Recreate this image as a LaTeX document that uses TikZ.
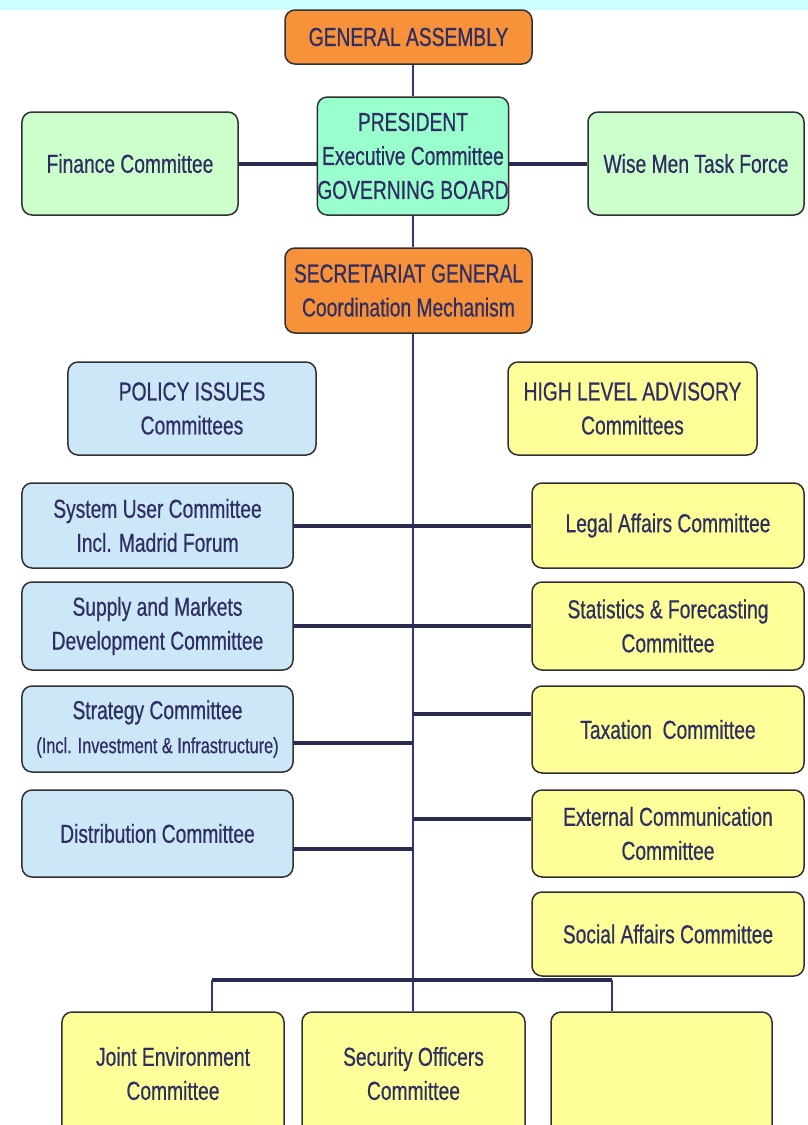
\documentclass[tikz,border=0pt]{standalone}
\usepackage{fontspec}
\setmainfont{Liberation Sans}[FakeStretch=0.74,FakeBold=0.6]
\usetikzlibrary{calc}
\pgfdeclarelayer{bg}
\pgfsetlayers{bg,main}
\definecolor{orangebox}{HTML}{F7923A}
\definecolor{presbox}{HTML}{99FFCC}
\definecolor{greenbox}{HTML}{CCFFCC}
\definecolor{bluebox}{HTML}{CCE8F8}
\definecolor{yellowbox}{HTML}{FFFF99}
\definecolor{band}{HTML}{CCFFFF}
\definecolor{txt}{HTML}{2E2E63}
\definecolor{boxline}{HTML}{303030}
\definecolor{conncol}{HTML}{2B2B50}
\definecolor{spinecol}{HTML}{333388}
\tikzset{
  box/.style={draw=boxline, line width=1.5bp, rounded corners=10bp, align=center,
    text=txt, font=\fontsize{26bp}{34bp}\selectfont, inner sep=0pt},
  conn/.style={draw=conncol, line width=4bp},
  spine/.style={draw=spinecol, line width=1.5bp},
}
\begin{document}
\begin{tikzpicture}[x=1bp,y=-1bp]
\clip (0,0) rectangle (808,1125);
% top
\node[box, fill=orangebox, minimum width=247bp, minimum height=54bp] (ga) at (408.5,37) {GENERAL ASSEMBLY};
\node[box, fill=presbox, minimum width=190bp, minimum height=118bp] (pres) at (413,156) {PRESIDENT\\Executive Committee\\GOVERNING BOARD};
\node[box, fill=greenbox, minimum width=216bp, minimum height=103bp] (fin) at (130,163.5) {Finance Committee};
\node[box, fill=greenbox, minimum width=216bp, minimum height=103bp] (wise) at (696,163.5) {Wise Men Task Force};
\node[box, fill=orangebox, minimum width=247bp, minimum height=85bp] (sec) at (408.5,290.5) {SECRETARIAT GENERAL\\Coordination Mechanism};
% headers
\node[box, fill=bluebox, minimum width=248bp, minimum height=93bp] (pol) at (192,408.5) {POLICY ISSUES\\Committees};
\node[box, fill=yellowbox, minimum width=249bp, minimum height=93bp] (high) at (632.5,408.5) {HIGH LEVEL ADVISORY\\Committees};
% left column
\node[box, fill=bluebox, minimum width=271bp, minimum height=85bp] (sys) at (157.5,525.5) {System User Committee\\Incl. Madrid Forum};
\node[box, fill=bluebox, minimum width=271bp, minimum height=88bp] (sup) at (157.5,626) {Supply and Markets\\Development Committee};
\node[box, fill=bluebox, minimum width=271bp, minimum height=86bp] (strat) at (157.5,729) {Strategy Committee\\{\fontsize{22bp}{26bp}\selectfont (Incl. Investment \& Infrastructure)}};
\node[box, fill=bluebox, minimum width=271bp, minimum height=87bp] (dist) at (157.5,833.5) {Distribution Committee};
% right column
\node[box, fill=yellowbox, minimum width=272bp, minimum height=85bp] (legal) at (668,525.5) {Legal Affairs Committee};
\node[box, fill=yellowbox, minimum width=272bp, minimum height=88bp] (stat) at (668,626) {Statistics \& Forecasting\\Committee};
\node[box, fill=yellowbox, minimum width=272bp, minimum height=87bp] (tax) at (668,729.5) {Taxation~~Committee};
\node[box, fill=yellowbox, minimum width=272bp, minimum height=87bp] (ext) at (668,833.5) {External Communication\\Committee};
\node[box, fill=yellowbox, minimum width=272bp, minimum height=84bp] (soc) at (668,934) {Social Affairs Committee};
% bottom row
\node[box, fill=yellowbox, minimum width=222bp, minimum height=128bp] (joint) at (173,1076) {\raisebox{16bp}{\begin{tabular}{@{}c@{}}Joint Environment\\Committee\end{tabular}}};
\node[box, fill=yellowbox, minimum width=223bp, minimum height=128bp] (secoff) at (413.5,1076) {\raisebox{16bp}{\begin{tabular}{@{}c@{}}Security Officers\\Committee\end{tabular}}};
\node[box, fill=yellowbox, minimum width=221bp, minimum height=128bp] (third) at (661.5,1076) {};
% connector points
\coordinate (busc) at (413,980);
\coordinate (busl) at (212,980);
\coordinate (busr) at (612,980);
\coordinate (stl) at ($(strat.east)+(0,14)$);
\coordinate (dil) at ($(dist.east)+(0,15)$);
\coordinate (txl) at ($(tax.west)+(0,-16)$);
\coordinate (exl) at ($(ext.west)+(0,-15)$);
\begin{pgfonlayer}{bg}
\fill[white] (0,0) rectangle (808,1125);
\fill[band] (0,0) rectangle (808,10);
\draw[spine] (ga.south -| pres.north) -- (pres.north);
\draw[spine] (pres.south) -- (pres.south |- sec.north);
\draw[spine] (pres.south |- sec.south) -- (busc);
\draw[conn] (fin.east) -- (fin.east -| pres.west);
\draw[conn] (wise.west) -- (wise.west -| pres.east);
\draw[conn] (sys.east) -- (legal.west);
\draw[conn] (sup.east) -- (stat.west);
\draw[conn] (stl) -- (stl -| busc);
\draw[conn] (dil) -- (dil -| busc);
\draw[conn] (txl) -- (txl -| busc);
\draw[conn] (exl) -- (exl -| busc);
\draw[conn] (busl) -- (busr);
\draw[spine] (busl) -- (busl |- joint.north);
\draw[spine] (busc) -- (busc |- secoff.north);
\draw[spine] (busr) -- (busr |- third.north);
\end{pgfonlayer}
\end{tikzpicture}
\end{document}
